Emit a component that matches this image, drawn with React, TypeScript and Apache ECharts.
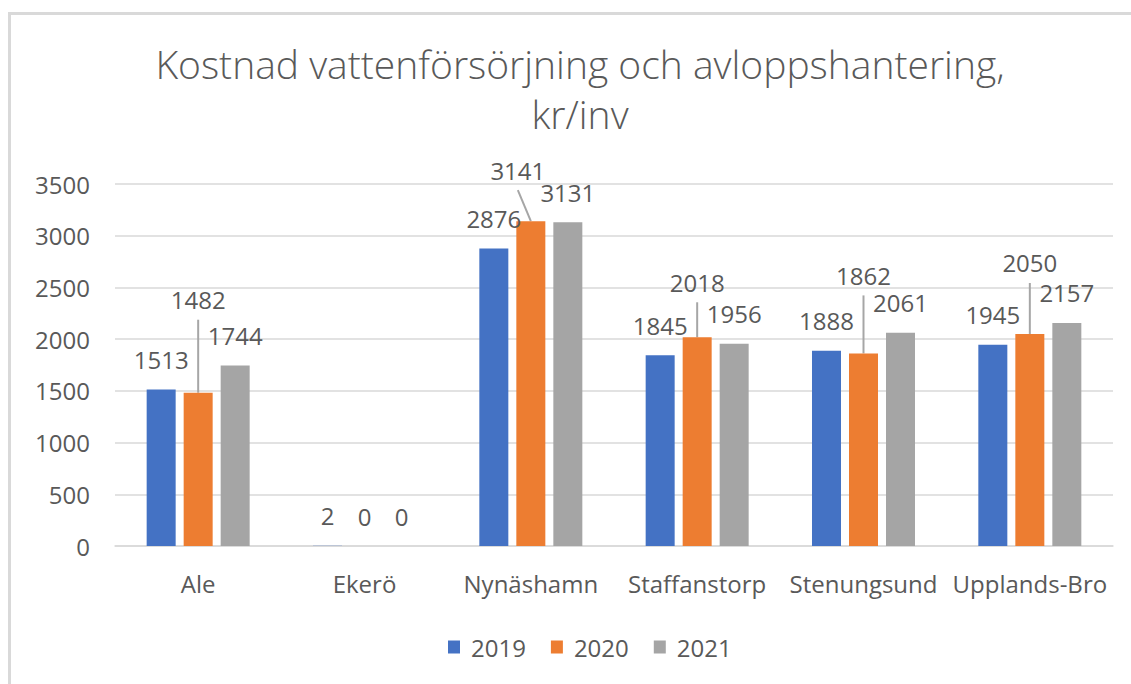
import React, { useEffect, useRef } from "react";
import * as echarts from "echarts";

const categories = ["Ale", "Ekerö", "Nynäshamn", "Staffanstorp", "Stenungsund", "Upplands-Bro"];
const years = ["2019", "2020", "2021"];
const values2019 = [1513, 2, 2876, 1845, 1888, 1945];
const values2020 = [1482, 0, 3141, 2018, 1862, 2050];
const values2021 = [1744, 0, 3131, 1956, 2061, 2157];
const yTicks = { min: 0, max: 3500, interval: 500 };
const colors = ["#4472C4", "#ED7D31", "#A5A5A5"];
// label displacement for the 2020 labels (style, not data): [dx, extra lift]
const labelShift2020: [number, number][] = [[0, 63], [0, 0], [-13, 21], [0, 25], [0, 48], [0, 41]];

const FONT = "'Open Sans', 'DejaVu Sans', sans-serif";
const TXT = "#595959";
const GRID = "#D9D9D9";
const LABEL_LIFT = 30;
const FS = 24;

export default function App() {
  const ref = useRef<HTMLDivElement>(null);
  useEffect(() => {
    if (!ref.current) return;
    const chart = echarts.init(ref.current, null, { renderer: "svg" });
    const labelBase = {
      show: true,
      position: "top",
      distance: 16,
      fontSize: FS,
      lineHeight: 28,
      color: TXT,
      fontFamily: FONT,
    };
    const mk = (name: string, vals: number[], idx: number, shifted: boolean) => ({
      name,
      type: "bar",
      barWidth: 29,
      barGap: "27.6%",
      itemStyle: { color: colors[idx] },
      label: labelBase,
      data: vals.map((v, i) =>
        shifted
          ? { value: v, label: { offset: [labelShift2020[i][0], -labelShift2020[i][1]] } }
          : v
      ),
    });
    chart.setOption({
      animation: false,
      backgroundColor: "#ffffff",
      title: {
        text: "Kostnad vattenförsörjning och avloppshantering,\nkr/inv",
        left: 575,
        top: 33,
        textAlign: "center",
        textStyle: {
          fontFamily: FONT,
          fontSize: 39,
          fontWeight: 300,
          lineHeight: 50,
          color: TXT,
        },
      },
      graphic: [
        { type: "line", shape: { x1: 8, y1: 13.5, x2: 1131, y2: 13.5 }, style: { stroke: GRID, lineWidth: 3 } },
        { type: "line", shape: { x1: 9.5, y1: 12, x2: 9.5, y2: 684 }, style: { stroke: GRID, lineWidth: 3 } },
      ],
      legend: {
        data: years,
        top: 630,
        left: 443,
        icon: "rect",
        itemWidth: 12,
        itemHeight: 13,
        itemGap: 25,
        textStyle: { fontFamily: FONT, fontSize: FS, color: TXT, padding: [0, 0, 0, 6] },
      },
      grid: { left: 115, right: 18, top: 184, bottom: 138, containLabel: false },
      xAxis: {
        type: "category",
        data: categories,
        axisLine: { show: true, lineStyle: { color: GRID, width: 1.5 } },
        axisTick: { show: false },
        axisLabel: { interval: 0, fontFamily: FONT, fontSize: FS, color: TXT, margin: 25 },
      },
      yAxis: {
        type: "value",
        min: yTicks.min,
        max: yTicks.max,
        interval: yTicks.interval,
        axisLine: { show: false },
        axisTick: { show: false },
        splitLine: { lineStyle: { color: GRID, width: 1.5 } },
        axisLabel: {
          fontFamily: FONT,
          fontSize: FS,
          color: TXT,
          margin: 25,
          formatter: (v: number) => String(v),
        },
      },
      series: [
        mk(years[0], values2019, 0, false),
        mk(years[1], values2020, 1, true),
        mk(years[2], values2021, 2, false),
        {
          name: "leader",
          type: "custom",
          silent: true,
          z: 1,
          data: values2020.map((v, i) => [i, v, labelShift2020[i][0], labelShift2020[i][1]]),
          encode: { x: 0, y: 1 },
          renderItem: (params: any, api: any) => {
            const extra = api.value(3);
            if (!extra) return { type: "group", children: [] };
            const p = api.coord([api.value(0), api.value(1)]);
            const labelY = p[1] - LABEL_LIFT - extra;
            return {
              type: "line",
              shape: { x1: p[0], y1: p[1], x2: p[0] + api.value(2), y2: labelY + 20 },
              style: { stroke: "#A6A6A6", lineWidth: 2 },
            };
          },
        },
      ],
    });
    return () => chart.dispose();
  }, []);
  return (
    <div
      ref={ref}
      style={{ position: "fixed", left: 0, top: 0, width: 1131, height: 684 }}
    />
  );
}
